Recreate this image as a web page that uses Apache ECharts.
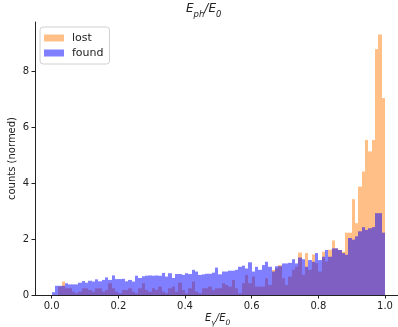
<!DOCTYPE html>
<html>
<head>
<meta charset="utf-8">
<script src="https://cdn.jsdelivr.net/npm/echarts@6/dist/echarts.min.js"></script>
<style>html,body{margin:0;padding:0;background:#fff}#c{width:398px;height:327px}</style>
</head>
<body>
<div id="c"></div>
<script>
// Histogram: 100 bins on [0, 1]
const binStart = 0.0;
const binWidth = 0.01;
const lost = [
  0.00, 0.00, 0.30, 0.48, 0.24, 0.24, 0.12, 0.06, 0.12, 0.24,
  0.24, 0.18, 0.12, 0.24, 0.24, 0.12, 0.18, 0.42, 0.24, 0.12,
  0.06, 0.18, 0.18, 0.24, 0.12, 0.06, 0.24, 0.42, 0.18, 0.12,
  0.24, 0.18, 0.30, 0.12, 0.06, 0.24, 0.30, 0.12, 0.44, 0.18,
  0.06, 0.24, 0.48, 0.12, 0.06, 0.24, 0.24, 0.30, 0.18, 0.24,
  0.24, 0.42, 0.36, 0.30, 0.54, 0.24, 0.06, 0.42, 0.72, 0.42,
  0.66, 0.30, 0.30, 0.30, 0.60, 0.36, 0.90, 0.96, 1.07, 0.60,
  0.36, 0.66, 0.90, 1.01, 1.52, 0.72, 1.50, 0.90, 1.45, 1.14,
  0.84, 1.55, 1.20, 1.62, 1.95, 1.67, 1.61, 1.55, 2.23, 2.23,
  3.43, 2.57, 3.88, 4.42, 5.55, 5.14, 5.55, 8.80, 9.32, 7.05
];
const found = [
  0.10, 0.33, 0.33, 0.33, 0.42, 0.38, 0.38, 0.38, 0.44, 0.50,
  0.44, 0.51, 0.48, 0.56, 0.49, 0.54, 0.63, 0.54, 0.70, 0.57,
  0.57, 0.58, 0.49, 0.54, 0.48, 0.69, 0.61, 0.67, 0.69, 0.70,
  0.69, 0.70, 0.69, 0.79, 0.66, 0.78, 0.61, 0.75, 0.75, 0.72,
  0.78, 0.75, 0.90, 0.84, 0.72, 0.74, 0.76, 0.76, 0.80, 0.98,
  0.74, 0.84, 0.84, 0.87, 0.87, 0.90, 1.01, 1.05, 0.95, 1.17,
  0.84, 1.01, 0.90, 1.07, 1.19, 1.01, 0.84, 1.03, 1.03, 1.13,
  1.13, 1.15, 1.28, 1.13, 1.34, 1.28, 1.01, 1.25, 1.19, 1.50,
  1.25, 1.37, 1.61, 1.37, 1.67, 1.67, 1.61, 1.50, 1.44, 2.04,
  1.98, 2.10, 2.28, 2.43, 2.33, 2.39, 2.43, 2.93, 2.93, 2.23
];
const xTicks = [0.0, 0.2, 0.4, 0.6, 0.8, 1.0];
const yTicks = [0, 2, 4, 6, 8];
const seriesNames = ['lost', 'found'];

function toBins(vals) {
  return vals.map((v, i) => [binStart + i * binWidth, binStart + (i + 1) * binWidth, v]);
}
function renderItem(params, api) {
  const p0 = api.coord([api.value(0), api.value(2)]);
  const p1 = api.coord([api.value(1), 0]);
  const x0 = Math.round(p0[0]), x1 = Math.round(p1[0]);
  return {
    type: 'rect',
    shape: { x: x0, y: p0[1], width: x1 - x0, height: p1[1] - p0[1] },
    style: api.style({ stroke: null })
  };
}

const chart = echarts.init(document.getElementById('c'), null, { renderer: 'canvas' });
const font = 'DejaVu Sans';
const axisCol = '#222';
chart.setOption({
  animation: false,
  textStyle: { fontFamily: font },
  grid: { left: 35, right: 0, top: 22, bottom: 32, containLabel: false },
  xAxis: [{
    type: 'value', min: -0.05, max: 1.039,
    axisLine: { show: true, onZero: false, lineStyle: { color: axisCol, width: 1 } },
    axisTick: { show: true, length: 3.5, customValues: xTicks, lineStyle: { color: axisCol } },
    axisLabel: { customValues: xTicks, color: '#222', fontSize: 10, fontFamily: font, margin: 6,
      formatter: v => v.toFixed(1) },
    splitLine: { show: false }
  }, {
    type: 'value', position: 'top', min: -0.05, max: 1.039,
    axisLine: { show: true, lineStyle: { color: axisCol, width: 1 } },
    axisTick: { show: false }, axisLabel: { show: false }, splitLine: { show: false }
  }],
  yAxis: {
    type: 'value', min: 0, max: 9.77,
    axisLine: { show: true, onZero: false, lineStyle: { color: axisCol, width: 1 } },
    axisTick: { show: true, length: 3.5, customValues: yTicks, lineStyle: { color: axisCol } },
    axisLabel: { customValues: yTicks, color: '#222', fontSize: 10, fontFamily: font, margin: 6 },
    splitLine: { show: false }
  },
  legend: {
    orient: 'vertical', left: 40, top: 27,
    data: seriesNames,
    icon: 'rect', itemWidth: 20, itemHeight: 7, itemGap: 3,
    padding: [5, 6, 5, 4],
    backgroundColor: 'rgba(255,255,255,0.8)',
    borderColor: '#d0d0d0', borderWidth: 1, borderRadius: 3,
    textStyle: { fontSize: 11, color: '#222', fontFamily: font, lineHeight: 12, padding: [0, 0, 0, 3] }
  },
  graphic: [
    { type: 'text', left: 186, top: 3,
      style: { text: '{i|E}{s|ph}{i|/E}{s|0}', fill: '#222',
        rich: {
          i: { fontSize: 12, fontStyle: 'italic', fontFamily: font, lineHeight: 14, verticalAlign: 'top' },
          s: { fontSize: 8.5, fontStyle: 'italic', fontFamily: font, lineHeight: 9, padding: [7, 0, 0, 0], verticalAlign: 'top' }
        } } },
    { type: 'text', left: 205, top: 313,
      style: { text: '{i|E}{s|γ}{i|/E}{s|0}', fill: '#222',
        rich: {
          i: { fontSize: 10, fontStyle: 'italic', fontFamily: font, lineHeight: 12, verticalAlign: 'top' },
          s: { fontSize: 7.5, fontStyle: 'italic', fontFamily: font, lineHeight: 7, padding: [6, 0, 0, 0], verticalAlign: 'top' }
        } } },
    { type: 'text', x: 12, y: 158.5, rotation: Math.PI / 2,
      style: { text: 'counts (normed)', fontSize: 10, fontFamily: font, fill: '#222',
        align: 'center', verticalAlign: 'middle' } }
  ],
  series: [
    { name: 'lost', type: 'custom', renderItem: renderItem, data: toBins(lost),
      encode: { x: [0, 1], y: 2 }, itemStyle: { color: 'rgba(255,127,14,0.5)' }, z: 2 },
    { name: 'found', type: 'custom', renderItem: renderItem, data: toBins(found),
      encode: { x: [0, 1], y: 2 }, itemStyle: { color: 'rgba(0,0,255,0.5)' }, z: 3 }
  ]
});
</script>
</body>
</html>
